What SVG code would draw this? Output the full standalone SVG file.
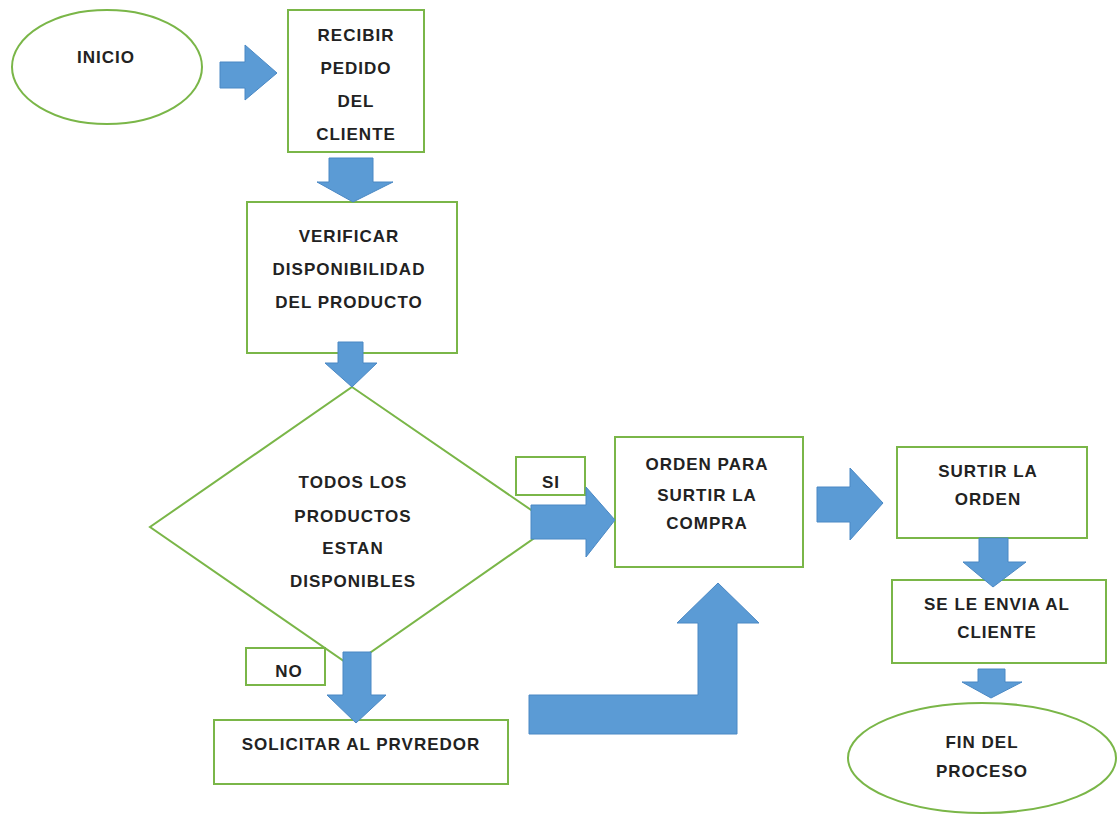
<svg xmlns="http://www.w3.org/2000/svg" width="1117" height="815" viewBox="0 0 1117 815">
<style>
.n{fill:#fff;stroke:#7ab648;stroke-width:2}
.a{fill:#5b9bd5;stroke:#4a88c4;stroke-width:1}
text{font-family:"Liberation Sans",Arial,sans-serif;font-weight:bold;font-size:17px;fill:#222;text-anchor:middle;letter-spacing:1px}
</style>
<rect width="1117" height="815" fill="#fff"/>
<g id="inicio"><ellipse class="n" cx="107" cy="67" rx="95" ry="57"/><text x="106" y="63">INICIO</text></g>
<g id="recibir"><rect class="n" x="288" y="10" width="136" height="142"/><text x="356" y="41">RECIBIR</text><text x="356" y="74">PEDIDO</text><text x="356" y="107">DEL</text><text x="356" y="140">CLIENTE</text></g>
<g id="verificar"><rect class="n" x="247" y="202" width="210" height="151"/><text x="349" y="242">VERIFICAR</text><text x="349" y="275">DISPONIBILIDAD</text><text x="349" y="308">DEL PRODUCTO</text></g>
<g id="decision"><polygon class="n" points="352,387 553,525 351,666 150,527"/><text x="353" y="488">TODOS LOS</text><text x="353" y="522">PRODUCTOS</text><text x="353" y="554">ESTAN</text><text x="353" y="587">DISPONIBLES</text></g>
<g id="si"><rect class="n" x="516" y="457" width="69" height="38"/><text x="551" y="488">SI</text></g>
<g id="no"><rect class="n" x="246" y="648" width="79" height="37"/><text x="289" y="677">NO</text></g>
<g id="solicitar"><rect class="n" x="214" y="720" width="294" height="64"/><text x="361" y="750">SOLICITAR AL PRVREDOR</text></g>
<g id="orden"><rect class="n" x="615" y="437" width="188" height="130"/><text x="707" y="470">ORDEN PARA</text><text x="707" y="501">SURTIR LA</text><text x="707" y="529">COMPRA</text></g>
<g id="surtir"><rect class="n" x="897" y="447" width="190" height="91"/><text x="988" y="477">SURTIR LA</text><text x="988" y="505">ORDEN</text></g>
<g id="envia"><rect class="n" x="892" y="580" width="214" height="83"/><text x="997" y="610">SE LE ENVIA AL</text><text x="997" y="638">CLIENTE</text></g>
<g id="fin"><ellipse class="n" cx="982" cy="758" rx="134" ry="55"/><text x="982" y="748">FIN DEL</text><text x="982" y="777">PROCESO</text></g>
<g id="connectors">
<polygon class="a" points="220,62 245,62 245,45 277,73 245,100 245,88 220,88"/>
<polygon class="a" points="329,158 373,158 373,182 393,182 353,202 317,182 329,182"/>
<polygon class="a" points="338,342 363,342 363,363 377,363 352,387 325,363 338,363"/>
<polygon class="a" points="531,505 586,505 586,487 615,520 586,557 586,539 531,539"/>
<polygon class="a" points="343,652 371,652 371,695 386,695 356,723 327,695 343,695"/>
<polygon class="a" points="529,695 698,695 698,623 677,623 718,583 759,623 737,623 737,734 529,734"/>
<polygon class="a" points="817,487 850,487 850,468 883,503 850,540 850,522 817,522"/>
<polygon class="a" points="979,538 1008,538 1008,562 1026,562 993,587 963,562 979,562"/>
<polygon class="a" points="978,669 1005,669 1005,682 1022,682 991,698 962,682 978,682"/>
</g>
</svg>
